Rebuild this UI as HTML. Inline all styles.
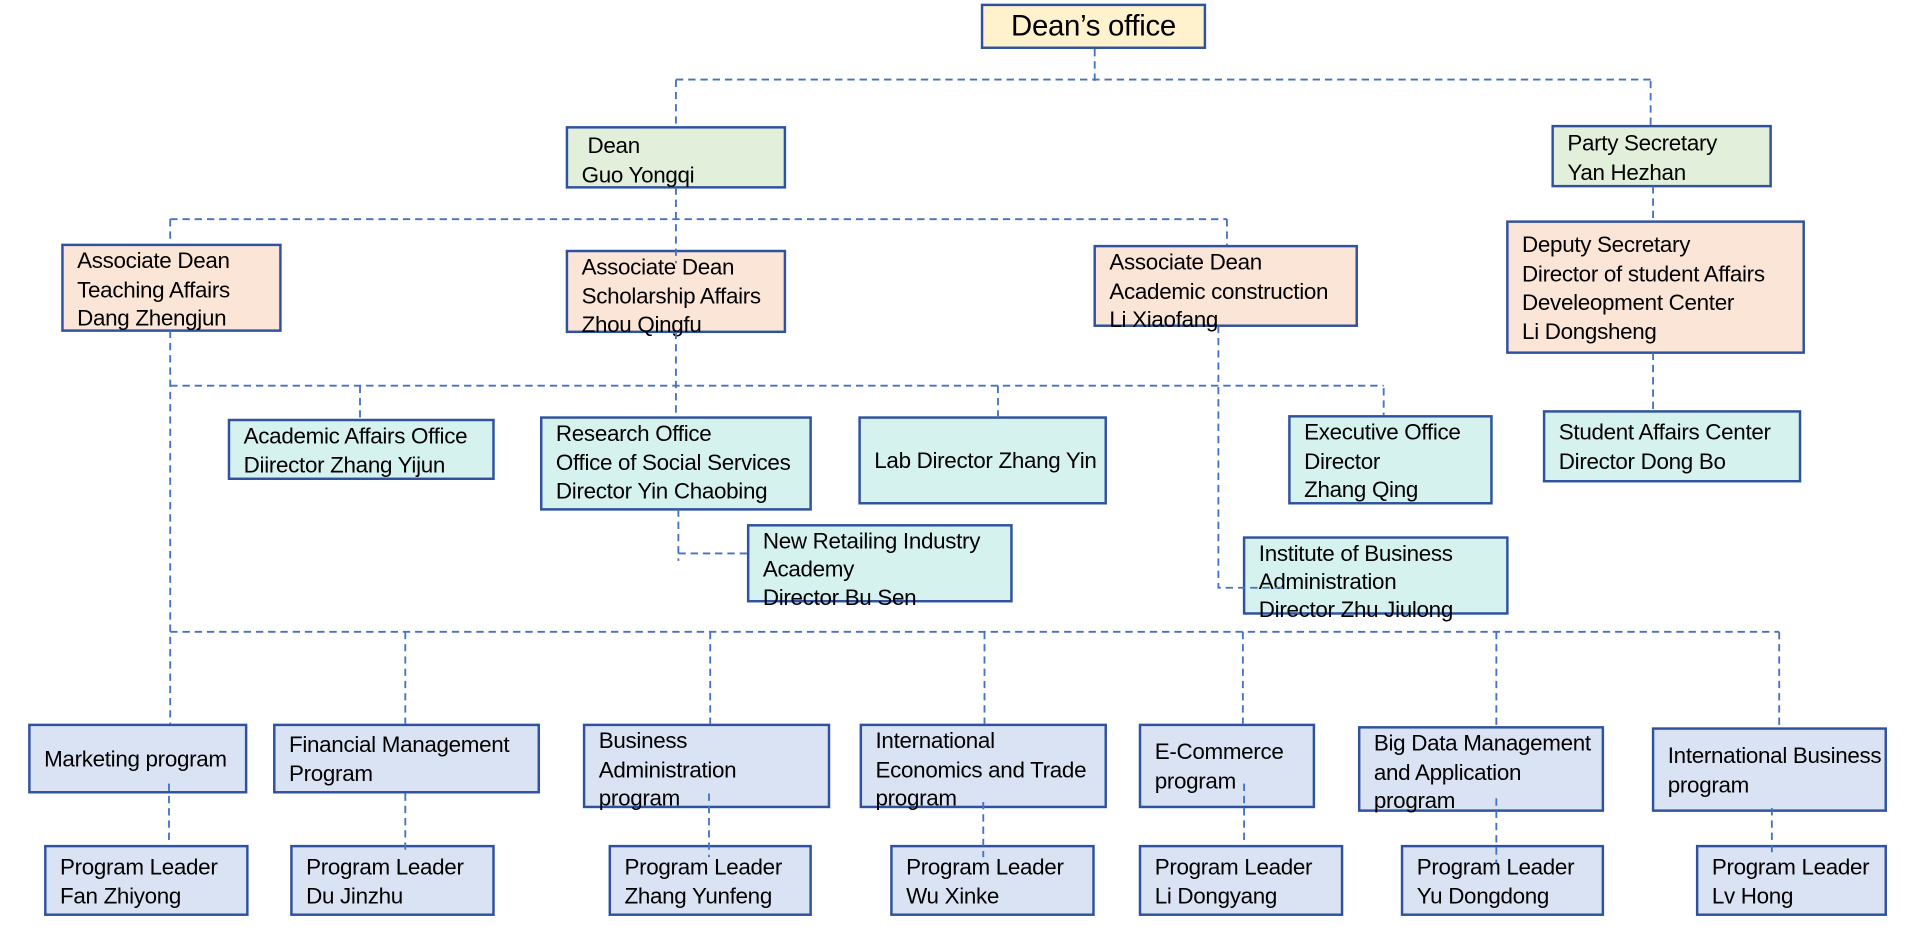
<!DOCTYPE html>
<html><head><meta charset="utf-8"><style>
html,body{margin:0;padding:0;background:#fff;width:1920px;height:936px;overflow:hidden}
#w{position:absolute;left:0;top:0;width:1568px;height:764px;transform:scale(1.2245);transform-origin:0 0}
.b{position:absolute;box-sizing:border-box;border:2px solid #2F52A0;font-family:"Liberation Sans",sans-serif;font-size:18.3px;letter-spacing:-0.25px;line-height:23.5px;color:#000;padding:2px 0 0 11px;white-space:nowrap}
.g{background:#E2EFDA}.o{background:#FBE5D6}.c{background:#D5F2EF}.p{background:#DAE3F3}.y{background:#FFF2CC}
svg{position:absolute;left:0;top:0}
</style></head><body><div id="w">
<div class="b y" style="left:801px;top:3px;width:184px;height:37px;font-size:24px;text-align:center;padding:3px 0 0 0;line-height:28px">Dean’s office</div>
<div class="b g" style="left:462px;top:103px;width:180px;height:51px;padding-top:2px"> &nbsp;Dean<br>Guo Yongqi</div>
<div class="b g" style="left:1267px;top:102px;width:180px;height:51px;padding-top:1px">Party Secretary<br>Yan Hezhan</div>
<div class="b o" style="left:50px;top:199px;width:180px;height:72px;padding-top:0">Associate Dean<br>Teaching Affairs<br>Dang Zhengjun</div>
<div class="b o" style="left:462px;top:204px;width:180px;height:68px;padding-top:0">Associate Dean<br>Scholarship Affairs<br>Zhou Qingfu</div>
<div class="b o" style="left:893px;top:200px;width:216px;height:67px;padding-top:0">Associate Dean<br>Academic construction<br>Li Xiaofang</div>
<div class="b o" style="left:1230px;top:180px;width:244px;height:109px;padding-top:6px">Deputy Secretary<br>Director of student Affairs<br>Develeopment Center<br>Li Dongsheng</div>
<div class="b c" style="left:186px;top:342px;width:218px;height:50px;padding-top:0">Academic Affairs Office<br>Diirector Zhang Yijun</div>
<div class="b c" style="left:441px;top:340px;width:222px;height:77px;padding-top:0">Research Office<br>Office of Social Services<br>Director Yin Chaobing</div>
<div class="b c" style="left:701px;top:340px;width:203px;height:72px;padding-top:22px">Lab Director Zhang Yin</div>
<div class="b c" style="left:1052px;top:339px;width:167px;height:73px;padding-top:0">Executive Office<br>Director<br>Zhang Qing</div>
<div class="b c" style="left:1260px;top:335px;width:211px;height:59px;padding-top:4px">Student Affairs Center<br>Director Dong Bo</div>
<div class="b c" style="left:610px;top:428px;width:217px;height:64px;padding-top:0;line-height:23px">New Retailing Industry<br>Academy<br>Director Bu Sen</div>
<div class="b c" style="left:1015px;top:438px;width:217px;height:64px;padding-top:0;line-height:23px">Institute of Business<br>Administration<br>Director Zhu Jiulong</div>
<div class="b p" style="left:23px;top:591px;width:179px;height:57px;padding-top:15px">Marketing program</div>
<div class="b p" style="left:223px;top:591px;width:218px;height:57px;padding-top:3px">Financial Management<br>Program</div>
<div class="b p" style="left:476px;top:591px;width:202px;height:69px;padding-top:0"> Business<br>Administration<br>program</div>
<div class="b p" style="left:702px;top:591px;width:202px;height:69px;padding-top:0"> International<br>Economics and Trade<br>program</div>
<div class="b p" style="left:930px;top:591px;width:144px;height:69px;padding-top:9px">E-Commerce<br>program</div>
<div class="b p" style="left:1109px;top:593px;width:201px;height:70px;padding-top:0">Big Data Management<br>and Application<br>program</div>
<div class="b p" style="left:1349px;top:594px;width:192px;height:69px;padding-top:9px">International Business<br>program</div>
<div class="b p" style="left:36px;top:690px;width:167px;height:58px;padding-top:4px">Program Leader<br>Fan Zhiyong</div>
<div class="b p" style="left:237px;top:690px;width:167px;height:58px;padding-top:4px">Program Leader<br>Du Jinzhu</div>
<div class="b p" style="left:497px;top:690px;width:166px;height:58px;padding-top:4px">Program Leader<br>Zhang Yunfeng</div>
<div class="b p" style="left:727px;top:690px;width:167px;height:58px;padding-top:4px">Program Leader<br>Wu Xinke</div>
<div class="b p" style="left:930px;top:690px;width:167px;height:58px;padding-top:4px">Program Leader<br>Li Dongyang</div>
<div class="b p" style="left:1144px;top:690px;width:166px;height:58px;padding-top:4px">Program Leader<br>Yu Dongdong</div>
<div class="b p" style="left:1385px;top:690px;width:156px;height:58px;padding-top:4px">Program Leader<br>Lv Hong</div>
<svg width="1568" height="764" fill="none" stroke="#4472C4" stroke-width="1.5" stroke-dasharray="6,4">
<path d="M894 40V66M552 65H1348M552 65V103M1348 66V102"/>
<path d="M552 153V215M139 179H1002M139 179V199M1002 179V200M1350 152V180"/>
<path d="M139 270V591M139 315H1130M294 315V342M815 315V345M1130 317V339M552 271V340"/>
<path d="M554 416V458M554 452H610M995 266V480H1050M1350 288V335"/>
<path d="M139 516H1453M331 516V591M580 516V591M804 516V591M1015 516V591M1222 516V593M1453 516V594"/>
<path d="M138 640V690M331 648V695M579 648V700M803 655V700M1016 640V690M1222 652V705M1447 660V700"/>
</svg>
</div></body></html>
